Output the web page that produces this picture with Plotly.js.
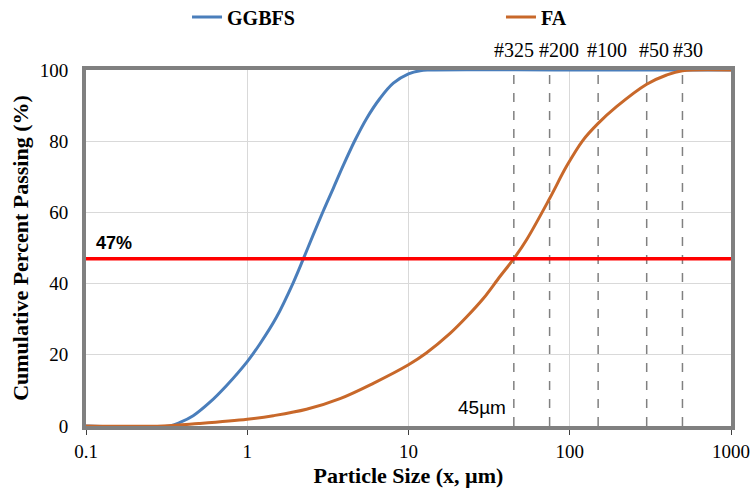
<!DOCTYPE html>
<html>
<head>
<meta charset="utf-8">
<script src="https://cdn.plot.ly/plotly-3.0.1.min.js"></script>
<style>html,body{margin:0;padding:0;background:#fff;}#chart{width:752px;height:494px;}</style>
</head>
<body>
<div id="chart"></div>
<script>
// ---- Data ----
var ggbfsSize = [0.1, 0.33, 0.383, 0.462, 0.587, 0.745, 1.0, 1.20, 1.52, 1.93, 2.23, 2.56, 2.96, 3.41, 3.94, 4.65, 5.50, 6.65, 8.05, 10.0, 11.8, 13.5, 100, 1000];
var ggbfsPass = [0, 0, 1.0, 2.9, 6.7, 11.4, 18.1, 23.1, 30.6, 40.3, 47, 53.6, 60.4, 66.7, 73.2, 80.2, 86.4, 92, 96.3, 98.9, 99.8, 100, 100, 100];

var faSize = [0.1, 0.3, 0.5, 1.0, 1.45, 2.33, 3.76, 6.05, 10, 12.9, 18.1, 22.9, 29.1, 36.9, 45, 54.1, 75, 95.7, 121, 150, 195, 300, 399, 500, 1000];
var faPass = [0, 0, 0.7, 1.9, 2.9, 4.7, 7.7, 12.0, 17.2, 20.5, 26.0, 30.6, 35.8, 42.0, 47, 52.4, 63.9, 73, 80.3, 85, 89.7, 96, 98.6, 99.8, 100];

var sieveSize = [45, 75, 150, 300, 500];
var sieveLabel = ['#325', '#200', '#100', '#50', '#30'];
var sieveShift = [0, 9, 9, 7, 6];

var refLevel = 47;
var refLabel = '47%';
var sizeLabel = '45µm';

var xTickVals = [0.1, 1, 10, 100, 1000];
var xTickText = ['0.1', '1', '10', '100', '1000'];

var serif = 'Liberation Serif, Times New Roman, serif';
var sans = 'Liberation Sans, Arial, sans-serif';

var traces = [
  {x: ggbfsSize, y: ggbfsPass, name: 'GGBFS', mode: 'lines', legend: 'legend',
   line: {color: '#4a7ebb', width: 3, shape: 'spline', smoothing: 1}},
  {x: faSize, y: faPass, name: 'FA', mode: 'lines', legend: 'legend2',
   line: {color: '#c8682a', width: 3, shape: 'spline', smoothing: 1}},
  {x: [xTickVals[0], xTickVals[xTickVals.length - 1]], y: [refLevel, refLevel], mode: 'lines',
   showlegend: false, hoverinfo: 'skip', line: {color: '#ff0000', width: 3.5}}
];

var shapes = sieveSize.map(function (s) {
  return {type: 'line', xref: 'x', yref: 'y', x0: s, x1: s, y0: 0, y1: 100, layer: 'below',
          line: {color: '#808080', width: 1.5, dash: 'dash'}};
});

var annotations = sieveSize.map(function (s, i) {
  return {x: Math.log10(s), y: 100, xref: 'x', yref: 'y', text: sieveLabel[i], showarrow: false,
          xshift: sieveShift[i], yanchor: 'bottom', yshift: 7,
          font: {family: serif, size: 20, color: '#000'}};
});
annotations.push({x: -1, y: refLevel, xref: 'x', yref: 'y', text: '<b>' + refLabel + '</b>', showarrow: false,
  xanchor: 'left', yanchor: 'bottom', xshift: 8, yshift: 4, font: {family: sans, size: 18, color: '#000'}});
annotations.push({x: Math.log10(sieveSize[0]), y: 0, xref: 'x', yref: 'y', text: sizeLabel, showarrow: false,
  xanchor: 'right', yanchor: 'bottom', xshift: -6, yshift: 6, font: {family: sans, size: 19, color: '#000'}});

var legendFont = {family: serif, size: 20, color: '#000', weight: 'bold'};
var layout = {
  width: 752, height: 494,
  margin: {l: 86, r: 21, t: 70, b: 68},
  paper_bgcolor: '#fff', plot_bgcolor: '#fff',
  showlegend: true,
  legend: {orientation: 'h', xref: 'container', yref: 'container', x: 0.2487, xanchor: 'left', y: 0.9656, yanchor: 'middle', font: legendFont, bgcolor: 'rgba(0,0,0,0)'},
  legend2: {orientation: 'h', xref: 'container', yref: 'container', x: 0.6662, xanchor: 'left', y: 0.9656, yanchor: 'middle', font: legendFont, bgcolor: 'rgba(0,0,0,0)'},
  xaxis: {type: 'log', range: [-1, 3], tickvals: xTickVals, ticktext: xTickText,
          showgrid: true, gridcolor: '#d9d9d9', gridwidth: 1,
          showline: true, linecolor: '#808080', linewidth: 4, mirror: true,
          ticks: 'outside', ticklen: 5, tickcolor: '#404040', tickwidth: 1,
          tickfont: {family: serif, size: 19, color: '#000'},
          title: {text: '<b>Particle Size (x, µm)</b>', font: {family: serif, size: 22, color: '#000'}, standoff: 8},
          zeroline: false},
  yaxis: {range: [0, 100], tickvals: [0, 20, 40, 60, 80, 100],
          showgrid: true, gridcolor: '#d9d9d9', gridwidth: 1,
          showline: true, linecolor: '#808080', linewidth: 4, mirror: true,
          ticks: '', ticklabelstandoff: 10, tickfont: {family: serif, size: 19, color: '#000'},
          title: {text: '<b>Cumulative Percent Passing (%)</b>', font: {family: serif, size: 22, color: '#000'}, standoff: 6},
          zeroline: false},
  shapes: shapes,
  annotations: annotations
};

Plotly.newPlot('chart', traces, layout, {displayModeBar: false, staticPlot: true});
</script>
</body>
</html>
